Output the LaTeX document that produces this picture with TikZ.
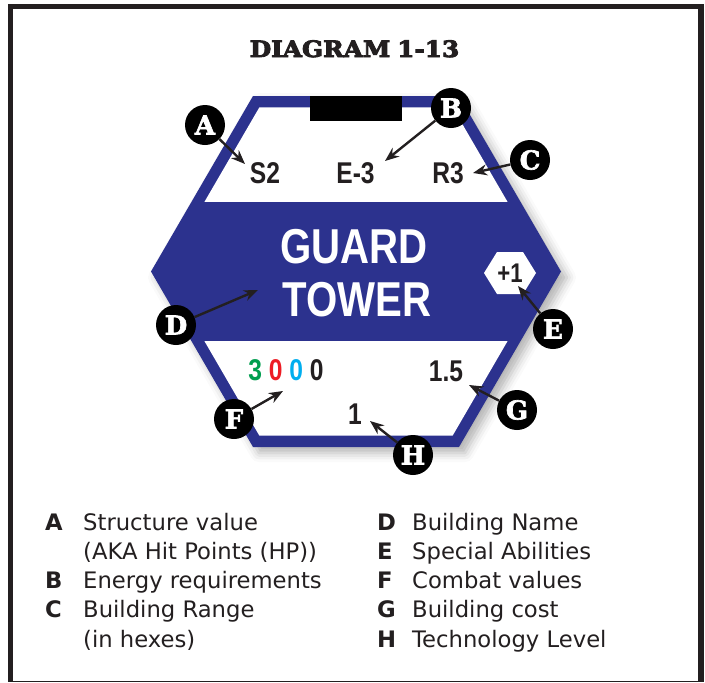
\documentclass[tikz,border=0pt]{standalone}
\usepackage{fontspec}
\usetikzlibrary{arrows.meta,shadows.blur}
\newfontfamily\condfont[FakeStretch=0.82]{Liberation Sans}
\newfontfamily\stencilfont[FakeStretch=1.1,FakeBold=4]{DejaVu Serif}
\newfontfamily\lettfont[FakeBold=2.5]{DejaVu Serif}
\newfontfamily\legendfont{DejaVu Sans}
\definecolor{hexblue}{RGB}{44,50,142}
\definecolor{ink}{RGB}{35,31,32}
\definecolor{cgreen}{RGB}{0,158,79}
\definecolor{cred}{RGB}{237,28,36}
\definecolor{ccyan}{RGB}{0,174,239}
\begin{document}
\begin{tikzpicture}[x=1pt,y=-1pt,
  lbl/.style={circle,fill=black,minimum size=40pt,inner sep=0pt,text=white,font=\lettfont\bfseries\fontsize{26}{26}\selectfont},
  arr/.style={draw=ink,line width=2.4pt,-{Stealth[length=14pt,width=11pt]}},
  val/.style={text=ink,inner sep=0pt,anchor=base,font=\condfont\bfseries\fontsize{30}{30}\selectfont},
  bigname/.style={text=white,inner sep=0pt,anchor=base,font=\condfont\bfseries\fontsize{49}{49}\selectfont},
  legkey/.style={text=ink,inner sep=0pt,anchor=base west,font=\legendfont\bfseries\fontsize{22.7}{22.7}\selectfont},
  legtxt/.style={text=ink,inner sep=0pt,anchor=base west,font=\legendfont\fontsize{22.7}{22.7}\selectfont}
]
\useasboundingbox (0,0) rectangle (705,683);
% frame
\fill[ink] (8,4) rectangle (704,9);
\fill[ink] (8,4) rectangle (13,681.5);
\fill[ink] (698,4) rectangle (704,681.5);
\fill[ink] (8,680.5) rectangle (704,681.5);
% title
\node[text=ink,inner sep=0pt,anchor=base,font=\stencilfont\bfseries\fontsize{22.5}{22.5}\selectfont] (title) at (354.5,57) {DIAGRAM\hspace{7pt}1-13};
% hexagon
\path[fill=hexblue, blur shadow={shadow xshift=6pt,shadow yshift=-6pt,shadow blur radius=9pt,shadow opacity=30}]
  (151,271.5) -- (253,96) -- (459,96) -- (561,271.5) -- (459,447) -- (253,447) -- cycle;
\begin{scope}
\clip (164,271.5) -- (259.4,107.3) -- (452.6,107.3) -- (548,271.5) -- (452.6,435.7) -- (259.4,435.7) -- cycle;
\fill[white] (140,90) rectangle (570,202);
\fill[white] (140,341) rectangle (570,450);
\end{scope}
\fill[black] (310,96) rectangle (402,121);
% values
\node[val] (s2) at (265,183) {S2};
\node[val] (e3) at (355.5,183) {E-3};
\node[val] (r3) at (448,183) {R3};
\node[bigname] (guard) at (354,263.5) {GUARD};
\node[bigname] (tower) at (357,316) {TOWER};
\fill[white] (484,273) -- (497,252) -- (523,252) -- (536,273) -- (523,294) -- (497,294) -- cycle;
\node[val,font=\condfont\bfseries\fontsize{27}{27}\selectfont] (plus) at (510,282) {+1};
\node[val] (combat) at (286,380) {\textcolor{cgreen}{3} \textcolor{cred}{0} \textcolor{ccyan}{0} 0};
\node[val] (cost) at (446,381) {1.5};
\node[val] (tech) at (355,424) {1};
% arrow targets
\coordinate (tA) at (245,164);
\coordinate (tB) at (385,161);
\coordinate (tC) at (473,173);
\coordinate (tD) at (258,290);
\coordinate (tE) at (518,286);
\coordinate (tF) at (283,391);
\coordinate (tG) at (469,385);
\coordinate (tH) at (370,421);
% circles
\node[lbl] (A) at (205,125) {A};
\node[lbl] (B) at (451,108) {B};
\node[lbl] (C) at (530,160) {C};
\node[lbl] (D) at (176,325) {D};
\node[lbl] (E) at (553,329) {E};
\node[lbl] (F) at (234,419) {F};
\node[lbl] (G) at (517,410) {G};
\node[lbl] (H) at (413,455) {H};
\draw[arr] (A) -- (tA);
\draw[arr] (B) -- (tB);
\draw[arr] (C) -- (tC);
\draw[arr] (D) -- (tD);
\draw[arr] (E) -- (tE);
\draw[arr] (F) -- (tF);
\draw[arr] (G) -- (tG);
\draw[arr] (H) -- (tH);
% legend
\node[legkey] (kA) at (45,530) {A};
\node[legtxt] (lA) at (83,530) {Structure value};
\node[legtxt] (lA2) at (83,559) {(AKA Hit Points (HP))};
\node[legkey] (kB) at (45,588) {B};
\node[legtxt] (lB) at (83,588) {Energy requirements};
\node[legkey] (kC) at (45,617) {C};
\node[legtxt] (lC) at (83,617) {Building Range};
\node[legtxt] (lC2) at (83,647) {(in hexes)};
\node[legkey] (kD) at (377,530) {D};
\node[legtxt] (lD) at (412,530) {Building Name};
\node[legkey] (kE) at (377,559) {E};
\node[legtxt] (lE) at (412,559) {Special Abilities};
\node[legkey] (kF) at (377,588) {F};
\node[legtxt] (lF) at (412,588) {Combat values};
\node[legkey] (kG) at (377,617) {G};
\node[legtxt] (lG) at (412,617) {Building cost};
\node[legkey] (kH) at (377,647) {H};
\node[legtxt] (lH) at (412,647) {Technology Level};
\end{tikzpicture}
\end{document}
